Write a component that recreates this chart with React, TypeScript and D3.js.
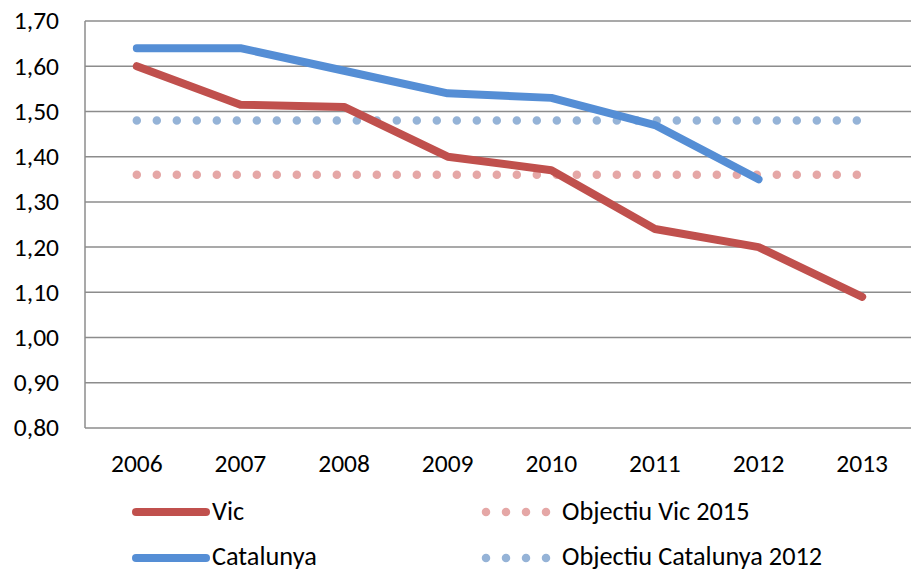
import React from "react";
import * as d3 from "d3";

const years = ["2006", "2007", "2008", "2009", "2010", "2011", "2012", "2013"];
const vic = [1.6, 1.515, 1.51, 1.4, 1.37, 1.24, 1.2, 1.09];
const catalunya: (number | null)[] = [1.64, 1.64, 1.59, 1.54, 1.53, 1.47, 1.35, null];
const objectiuVic = 1.36;
const objectiuCat = 1.48;
const yTicks = [0.8, 0.9, 1.0, 1.1, 1.2, 1.3, 1.4, 1.5, 1.6, 1.7];

const W = 911, H = 572;
const left = 85, right = 914, top = 21, bottom = 428;
const font = "Carlito, Calibri, 'Liberation Sans', sans-serif";
const fs = 25.5;
const lfs = 26.3;

export default function App() {
  const x = d3.scaleBand<string>().domain(years).range([left, right]);
  const cx = (y: string) => (x(y) as number) + x.bandwidth() / 2;
  const y = d3.scaleLinear().domain([0.8, 1.7]).range([bottom, top]);
  const fmt = (v: number) => v.toFixed(2).replace(".", ",");

  const line = d3.line<number | null>()
    .defined((d) => d != null)
    .x((_, i) => cx(years[i]))
    .y((d) => y(d as number));

  const red = "#C0504D", blue = "#558ED5", lred = "#E5A7A6", lblue = "#95B3D7";
  const row1 = 512, row2 = 558;

  return (
    <svg width={W} height={H} style={{ position: "absolute", left: 0, top: 0, background: "#fff" }}>
      {yTicks.map((t) => (
        <g key={t}>
          <line x1={left} x2={right} y1={y(t)} y2={y(t)} stroke="#8c8c8c" strokeWidth={1.5} />
          <text x={59} y={y(t)} dy="0.33em" textAnchor="end" fontFamily={font} fontSize={fs} fill="#000">{fmt(t)}</text>
        </g>
      ))}
      <line x1={left} x2={left} y1={top} y2={bottom} stroke="#8c8c8c" strokeWidth={1.5} />
      {years.map((yr) => (
        <text key={yr} x={cx(yr)} y={472} textAnchor="middle" fontFamily={font} fontSize={fs} fill="#000">{yr}</text>
      ))}
      <line x1={cx(years[0])} x2={cx(years[years.length - 1]) + 1} y1={y(objectiuVic)} y2={y(objectiuVic)}
        stroke={lred} strokeWidth={8.5} strokeLinecap="round" strokeDasharray="0 20" />
      <line x1={cx(years[0])} x2={cx(years[years.length - 1]) + 1} y1={y(objectiuCat)} y2={y(objectiuCat)}
        stroke={lblue} strokeWidth={8.5} strokeLinecap="round" strokeDasharray="0 20" />
      <path d={line(vic) || ""} fill="none" stroke={red} strokeWidth={8} strokeLinecap="round" strokeLinejoin="round" />
      <path d={line(catalunya) || ""} fill="none" stroke={blue} strokeWidth={8} strokeLinecap="round" strokeLinejoin="round" />

      {/* legend */}
      <line x1={136} x2={206} y1={row1} y2={row1} stroke={red} strokeWidth={8} strokeLinecap="round" />
      <text x={212} y={row1} dy="0.3em" fontFamily={font} fontSize={lfs}>Vic</text>
      <line x1={136} x2={206} y1={row2} y2={row2} stroke={blue} strokeWidth={8} strokeLinecap="round" />
      <text x={212} y={row2} dy="0.27em" fontFamily={font} fontSize={lfs}>Catalunya</text>
      <line x1={486} x2={547} y1={row1} y2={row1} stroke={lred} strokeWidth={8.5} strokeLinecap="round" strokeDasharray="0 20" />
      <text x={562} y={row1} dy="0.3em" fontFamily={font} fontSize={lfs}>Objectiu Vic 2015</text>
      <line x1={486} x2={547} y1={row2} y2={row2} stroke={lblue} strokeWidth={8.5} strokeLinecap="round" strokeDasharray="0 20" />
      <text x={562} y={row2} dy="0.27em" fontFamily={font} fontSize={lfs}>Objectiu Catalunya 2012</text>
    </svg>
  );
}
